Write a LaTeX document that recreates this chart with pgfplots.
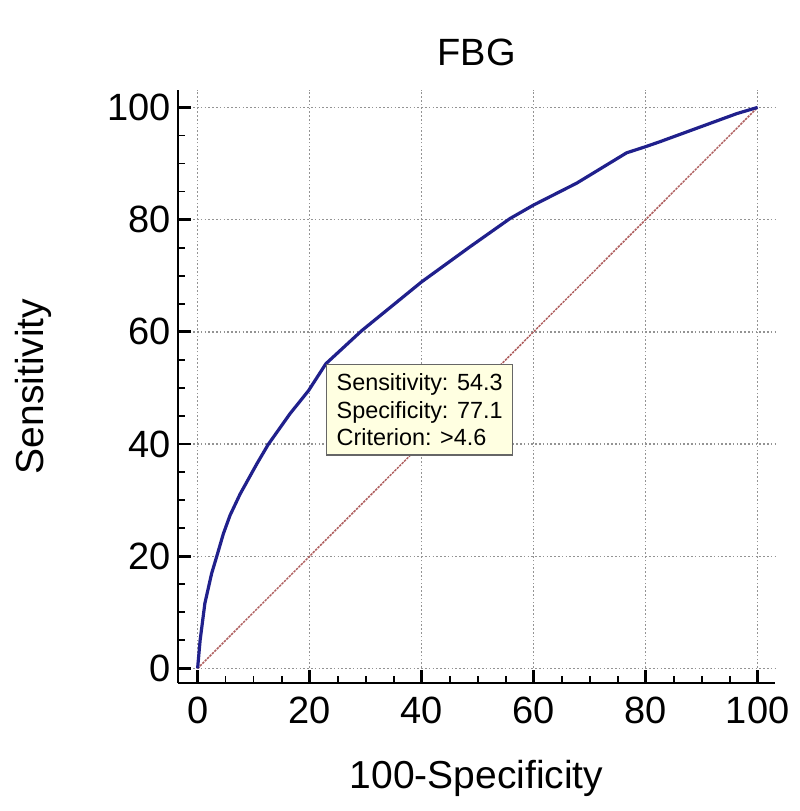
\documentclass[border=0pt]{standalone}
\usepackage{fontspec}
\setmainfont{Liberation Sans}
\usepackage{pgfplots}
\pgfplotsset{compat=1.18}
\definecolor{roc}{RGB}{32,32,140}
\definecolor{diag}{RGB}{175,95,95}
\definecolor{tipbg}{RGB}{255,255,225}
\begin{document}
\begin{tikzpicture}
\useasboundingbox (-89pt,-64pt) rectangle (311pt,341.5pt);
\begin{axis}[
  scale only axis,
  width=298.5pt, height=296.5pt,
  xmin=-3.5, xmax=103.1, ymin=-2.6, ymax=103.1,
  axis x line=bottom, axis y line=left,
  axis line style={-, line width=1.4pt, black},
  xtick={0,20,...,100}, ytick={0,20,...,100},
  minor tick num=3,
  tick align=inside,
  major tick length=6.7pt, minor tick length=3.4pt,
  every major tick/.append style={line width=1.4pt, black},
  every minor tick/.append style={line width=0.9pt, black},
  grid=major,
  major grid style={gray!85, dash pattern=on 0.8pt off 1.1pt, line width=0.7pt},
  /pgf/number format/assume math mode=true,
  tick label style={font=\fontsize{19}{23}\selectfont},
  xticklabel style={yshift=-3.5pt},
  label style={font=\fontsize{19.5}{23}\selectfont},
  title style={font=\fontsize{19}{23}\selectfont, at={(axis description cs:0.5,1.021)}, anchor=base},
  title={FBG},
  xlabel={100-Specificity},
  ylabel={Sensitivity},
  xlabel style={at={(axis description cs:0.5,-0.1771)}, anchor=base},
  ylabel style={at={(axis description cs:-0.2261,0.5)}, anchor=base, rotate=0},
  clip=false,
]
\addplot[diag, line width=0.75pt, dash pattern=on 1.2pt off 0.5pt] coordinates {(0,0) (100,100)};
\addplot[roc, line width=1.6pt, line join=round] coordinates {
(0,0) (0.45,5) (1.3,11.6) (2.5,16.9) (3.4,19.9) (4.6,24) (5.8,27.3)
(7.6,31.1) (10.6,36.5) (12.6,39.9) (16.5,45.4) (19.8,49.5) (22.9,54.3)
(29.3,60.2) (40,68.9) (48.7,75.2) (55.8,80.2) (60,82.6) (67.7,86.5)
(76.6,91.9) (80,93) (82.6,93.9) (96.3,98.9) (100,100)
};
\node[anchor=north west, draw=gray!80!black, fill=tipbg, line width=0.8pt,
  align=left, inner xsep=5pt, inner ysep=4.5pt,
  font=\fontsize{11.7}{13.8}\selectfont] at (axis cs:22.9,54.3)
  {Sensitivity: 54.3\\Specificity: 77.1\\Criterion: >4.6};
\end{axis}
\end{tikzpicture}
\end{document}
